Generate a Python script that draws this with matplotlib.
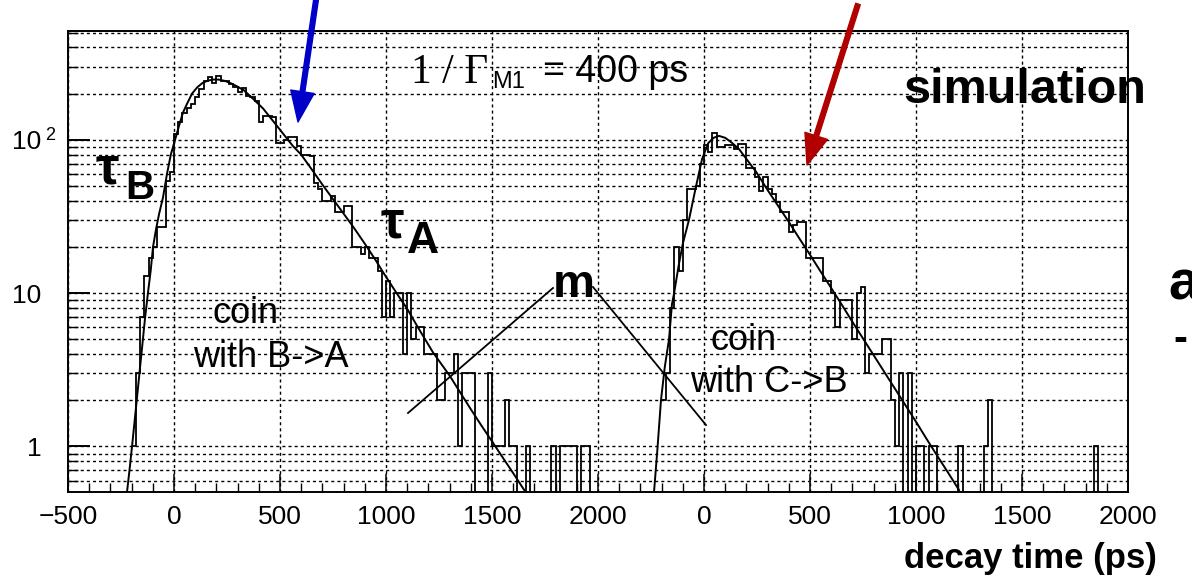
import numpy as np
import matplotlib.pyplot as plt
from matplotlib.ticker import FixedLocator, MultipleLocator, LogLocator, NullFormatter
from matplotlib.patches import FancyArrowPatch
from matplotlib.lines import Line2D

plt.rcParams['font.family'] = ['Liberation Sans', 'DejaVu Sans']

W, H = 1192, 583

# ---- data ----
bin_width = 20
right_offset = 2500   # right panel is drawn shifted by 2500 ps

left_start = -200
left_counts = [1, 3, 7, 13, 17, 20, 27, 27, 54, 62,
               109, 130, 150, 160, 172, 190, 215, 240, 256, 235,
               262, 243, 243, 232, 220, 206, 218, 194, 190, 178,
               130, 143, 143, 140, 95, 95, 100, 104, 104, 91,
               80, 80, 78, 52, 48, 40, 40, 43, 34, 34,
               37, 37, 20, 20, 18, 20, 17, 17, 14, 7,
               12, 7, 10, 10, 4, 10, 5, 6, 6, 4,
               4, 4, 2, 2, 3, 3, 4, 1, 3, 3,
               3, 0, 0, 0, 3, 1, 1, 1, 2, 1,
               1, 0, 0, 1, 0, 0, 0, 0, 0, 1,
               0, 1, 1, 1, 1, 0, 1, 1, 0, 0]

right_start = -200
right_counts = [2, 3, 8, 20, 14, 30, 48, 48, 50, 70,
                92, 83, 110, 90, 90, 92, 92, 87, 94, 94,
                65, 65, 57, 46, 57, 48, 44, 39, 34, 34,
                25, 28, 29, 29, 17, 17, 17, 17, 12, 12,
                10, 6, 9, 9, 9, 5, 10, 11, 3, 4,
                4, 4, 5, 5, 2, 1, 3, 0, 3, 0,
                1, 1, 0, 1, 1, 0, 0, 0, 0, 0,
                1, 0, 0, 0, 0, 0, 1, 2, 0, 0,
                0, 0, 0, 0, 0, 0, 0, 0, 0, 0,
                0, 0, 0, 0, 0, 0, 0, 0, 0, 0,
                0, 0, 1, 0, 0, 0, 0, 0, 0, 0]

left_fit_x = [-222, -210, -198, -185, -170, -160, -150, -137, -123, -110,
              -99, -85, -70, -52, -33, -15, 5, 25, 42, 60,
              85, 110, 135, 160, 185, 210, 240, 270, 300, 330,
              373, 420, 486, 530, 561, 600, 650, 700, 750, 800,
              850, 900, 950, 986, 1050, 1100, 1150, 1222, 1300, 1350,
              1400, 1450, 1500, 1550, 1600, 1660]
left_fit_y = [0.5, 0.7, 1.0, 1.5, 2.4, 3.3, 4.5, 6.8, 10, 14,
              20, 26, 33, 42, 60, 80, 100, 125, 150, 170,
              200, 220, 235, 243, 247, 247, 242, 233, 222, 210,
              185, 160, 123, 103, 91, 80, 64, 51, 41, 33,
              26.5, 21, 16.5, 13.7, 10, 7.9, 6.0, 4.1, 2.9, 2.25,
              1.75, 1.37, 1.08, 0.85, 0.67, 0.5]

right_fit_x = [-236, -220, -203, -185, -165, -151, -141, -120, -100, -71,
               -40, -9, 20, 45, 71, 100, 130, 165, 200, 245,
               300, 350, 401, 450, 500, 542, 600, 650, 700, 778,
               850, 900, 950, 1000, 1050, 1100, 1150, 1203]
right_fit_y = [0.5, 0.95, 2.0, 3.3, 5, 8.5, 10, 15, 21, 30,
               48, 75, 95, 103, 106, 103, 96, 87, 75, 62,
               47, 37, 29, 22.7, 17.8, 14.4, 10.8, 8.4, 6.5, 4.4,
               3.07, 2.39, 1.86, 1.45, 1.12, 0.87, 0.68, 0.52]

xticks_left = [-500, 0, 500, 1000, 1500, 2000]
xticks_right = [0, 500, 1000, 1500, 2000]


def fx(x):
    return x / W


def fy(y):
    return 1 - y / H


fig = plt.figure(figsize=(W / 100, H / 100), dpi=100)
ax = fig.add_axes([fx(68), fy(492), (1128 - 68) / W, (492 - 31) / H])
ax.set_yscale('log')
ax.set_xlim(-500, 4500)
ax.set_ylim(0.505, 512)

# histograms
lc = np.array(left_counts, float)
rc = np.array(right_counts, float)
l_edges = left_start + bin_width * np.arange(len(lc) + 1)
r_edges = right_start + right_offset + bin_width * np.arange(len(rc) + 1)
ax.stairs(np.where(lc > 0, lc, 0.1), l_edges, baseline=None, color='k', lw=1.3)
ax.stairs(np.where(rc > 0, rc, 0.1), r_edges, baseline=None, color='k', lw=1.3)

# fits
ax.plot(left_fit_x, left_fit_y, color='k', lw=1.4)
ax.plot(np.array(right_fit_x) + right_offset, right_fit_y, color='k', lw=1.4)

# axes / ticks
xpos = xticks_left + [v + right_offset for v in xticks_right]
xlab = [str(v).replace('-', '\u2212') for v in xticks_left] + [str(v) for v in xticks_right]
ax.xaxis.set_major_locator(FixedLocator(xpos))
ax.set_xticklabels(xlab)
ax.xaxis.set_minor_locator(MultipleLocator(100))
ax.yaxis.set_major_locator(FixedLocator([1, 10, 100]))
ax.set_yticklabels(['1', '10', '10'])
ax.yaxis.set_minor_locator(LogLocator(base=10, subs=np.arange(2, 10)))
ax.yaxis.set_minor_formatter(NullFormatter())

ax.tick_params(axis='both', which='both', direction='in', colors='k',
               labelsize=19, top=False, right=False)
ax.tick_params(axis='x', which='major', length=13, width=1.1, pad=9)
ax.tick_params(axis='x', which='minor', length=6.5, width=1.0)
ax.tick_params(axis='y', which='major', length=15.5, width=1.4, pad=19)
ax.tick_params(axis='y', which='minor', length=7.5, width=1.0)
# superscript of the 10^2 label
fig.text(fx(45), fy(140), '2', fontsize=13, va='baseline')

ax.grid(True, which='major', axis='x', color='k', lw=1.0, ls=(0, (2.2, 2.2)))
ax.grid(True, which='both', axis='y', color='k', lw=1.0, ls=(0, (2.2, 2.2)))
for s in ax.spines.values():
    s.set_linewidth(1.4)

# annotations
fig.text(fx(96), fy(184), '\u03c4', fontsize=38, fontweight='bold', va='baseline')
fig.text(fx(125), fy(199), 'B', fontsize=29, fontweight='bold', va='baseline')
fig.text(fx(381), fy(238), '\u03c4', fontsize=38, fontweight='bold', va='baseline')
fig.text(fx(407), fy(253), 'A', fontsize=32, fontweight='bold', va='baseline')
fig.text(fx(553), fy(297), 'm', fontsize=34, fontweight='bold', va='baseline')

fig.text(fx(213), fy(323), 'coin', fontsize=26, va='baseline')
fig.text(fx(193), fy(367), 'with B->A', fontsize=26, va='baseline')
fig.text(fx(711), fy(350), 'coin', fontsize=26, va='baseline')
fig.text(fx(690), fy(392), 'with C->B', fontsize=26, va='baseline')

fig.text(fx(411), fy(83), '1 / \u0393', fontsize=30, va='baseline', family='Liberation Serif')
fig.text(fx(492), fy(88), 'M1', fontsize=17, va='baseline')
fig.text(fx(543), fy(82), '= 400 ps', fontsize=27, va='baseline')
fig.text(fx(903), fy(103), 'simulation', fontsize=35, fontweight='bold', va='baseline')
fig.text(fx(1157), fy(568), 'decay time (ps)', fontsize=25, fontweight='bold',
         va='baseline', ha='right')
fig.text(fx(1168), fy(300), 'a', fontsize=40, fontweight='bold', va='baseline')
fig.text(fx(1173), fy(351), '-', fontsize=30, fontweight='bold', va='baseline')

fig.add_artist(Line2D([fx(408), fx(553)], [fy(413), fy(288)], color='k', lw=1.3))
fig.add_artist(Line2D([fx(593), fx(706)], [fy(287), fy(425)], color='k', lw=1.3))

for (x0, y0, x1, y1, c) in [(316, 0, 298, 122, '#0000c8'), (858, 4, 807, 165, '#b00000')]:
    fig.add_artist(FancyArrowPatch((fx(x0), fy(y0)), (fx(x1), fy(y1)),
                                   transform=fig.transFigure,
                                   arrowstyle='simple,head_length=1.1,head_width=0.85,tail_width=0.17',
                                   mutation_scale=20, color=c, shrinkA=0, shrinkB=0))

fig.savefig('out.png', dpi=100)
